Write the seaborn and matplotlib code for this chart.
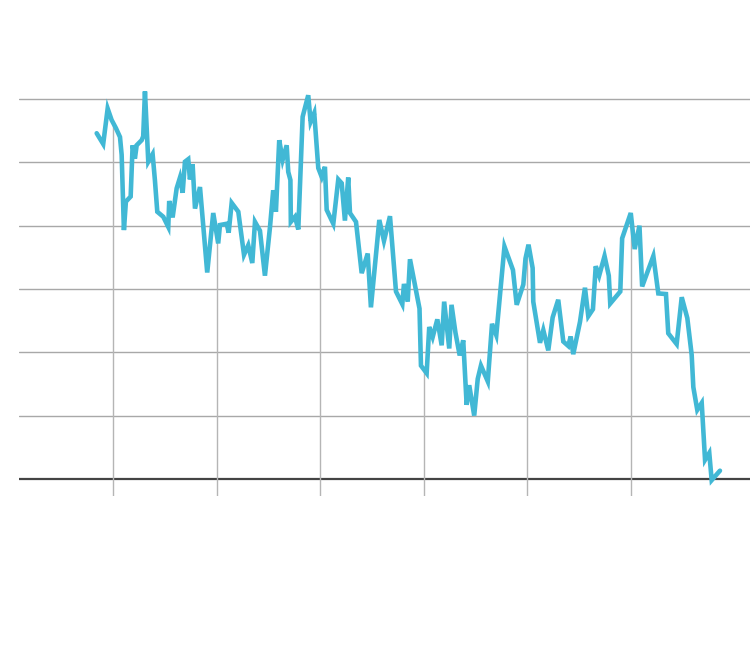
import numpy as np
import pandas as pd
import matplotlib
matplotlib.use("Agg")
import matplotlib.pyplot as plt
import seaborn as sns

# serie (ano decimal, valor)
anos = [2009.843, 2009.906, 2009.949, 2009.987, 2010.029, 2010.068, 2010.084, 2010.106,
        2010.125, 2010.171, 2010.190, 2010.212, 2010.229, 2010.277, 2010.292, 2010.309,
        2010.341, 2010.383, 2010.405, 2010.428, 2010.486, 2010.534, 2010.543, 2010.576,
        2010.615, 2010.647, 2010.673, 2010.695, 2010.727, 2010.743, 2010.769, 2010.792,
        2010.840, 2010.910, 2010.968, 2011.016, 2011.033, 2011.098, 2011.117, 2011.146,
        2011.210, 2011.265, 2011.306, 2011.345, 2011.371, 2011.419, 2011.467, 2011.516,
        2011.547, 2011.573, 2011.605, 2011.638, 2011.677, 2011.692, 2011.713, 2011.717,
        2011.757, 2011.789, 2011.831, 2011.885, 2011.908, 2011.943, 2011.982, 2012.015,
        2012.046, 2012.063, 2012.127, 2012.175, 2012.208, 2012.239, 2012.271, 2012.288,
        2012.346, 2012.401, 2012.459, 2012.490, 2012.571, 2012.616, 2012.674, 2012.732,
        2012.793, 2012.809, 2012.845, 2012.867, 2012.959, 2012.973, 2013.028, 2013.053,
        2013.086, 2013.131, 2013.173, 2013.197, 2013.246, 2013.268, 2013.306, 2013.347,
        2013.381, 2013.414, 2013.439, 2013.487, 2013.521, 2013.552, 2013.618, 2013.659,
        2013.700, 2013.779, 2013.861, 2013.897, 2013.961, 2013.982, 2014.011, 2014.051,
        2014.057, 2014.122, 2014.154, 2014.202, 2014.244, 2014.298, 2014.347, 2014.395,
        2014.418, 2014.443, 2014.508, 2014.556, 2014.588, 2014.633, 2014.660, 2014.693,
        2014.745, 2014.786, 2014.800, 2014.897, 2014.915, 2014.998, 2015.036, 2015.082,
        2015.108, 2015.216, 2015.264, 2015.338, 2015.360, 2015.441, 2015.490, 2015.544,
        2015.586, 2015.602, 2015.640, 2015.683, 2015.715, 2015.756, 2015.779, 2015.859]

valores = [5.46, 5.29, 5.85, 5.67, 5.54, 5.40, 5.12, 3.93,
           4.38, 4.46, 5.27, 5.06, 5.27, 5.35, 5.41, 6.12,
           5.01, 5.13, 4.72, 4.22, 4.14, 3.98, 4.39, 4.13,
           4.59, 4.76, 4.52, 5.01, 5.05, 4.73, 4.97, 4.27,
           4.61, 3.26, 4.20, 3.72, 4.01, 4.03, 3.89, 4.36,
           4.22, 3.54, 3.69, 3.41, 4.06, 3.92, 3.21, 3.98,
           4.56, 4.22, 5.35, 5.04, 5.27, 4.85, 4.72, 4.06,
           4.14, 3.94, 5.72, 6.06, 5.64, 5.78, 4.91, 4.77,
           4.93, 4.25, 4.03, 4.73, 4.67, 4.08, 4.76, 4.20,
           4.06, 3.25, 3.56, 2.71, 4.09, 3.76, 4.15, 2.96,
           2.76, 3.08, 2.80, 3.47, 2.69, 1.79, 1.67, 2.40,
           2.24, 2.52, 2.11, 2.80, 2.06, 2.75, 2.31, 1.95,
           2.19, 1.17, 1.48, 1.00, 1.58, 1.79, 1.54, 2.45,
           2.27, 3.67, 3.30, 2.75, 3.07, 3.48, 3.70, 3.33,
           2.80, 2.15, 2.35, 2.03, 2.55, 2.83, 2.17, 2.10,
           2.25, 1.97, 2.48, 3.02, 2.57, 2.68, 3.36, 3.21,
           3.52, 3.21, 2.77, 2.96, 3.80, 4.20, 3.63, 4.00,
           3.04, 3.52, 2.93, 2.92, 2.30, 2.13, 2.87, 2.54,
           1.96, 1.45, 1.09, 1.20, 0.30, 0.41, -0.02, 0.13]

ticks_anos = [2010, 2011, 2012, 2013, 2014, 2015]
grade_y = [1, 2, 3, 4, 5, 6]

df = pd.DataFrame({"ano": anos, "valor": valores})

sns.set_style("white")
fig = plt.figure(figsize=(7.5, 6.5), dpi=100)
ax = fig.add_axes([0.0253, 0.2369, 0.9747, 0.6302])

y_min = -0.27
ax.set_xlim(2009.093, 2016.149)
ax.set_ylim(y_min, 6.2)

# linhas horizontais
for g in grade_y:
    ax.axhline(g, color="#a8a8a8", lw=1, zorder=1)
ax.axhline(0, color="#444444", lw=1.6, zorder=1)

# linhas verticais que descem da serie ate o eixo
topo = np.interp(ticks_anos, df["ano"], df["valor"])
ax.vlines(ticks_anos, y_min, topo, color="#b5b5b5", lw=1, zorder=1)

sns.lineplot(data=df, x="ano", y="valor", ax=ax, color="#41b8d5",
             lw=3.3, zorder=3, solid_joinstyle="miter", sort=False)

ax.set_xticks([])
ax.set_yticks([])
ax.set_xlabel("")
ax.set_ylabel("")
sns.despine(ax=ax, left=True, bottom=True)

fig.savefig("out.png", dpi=100)
